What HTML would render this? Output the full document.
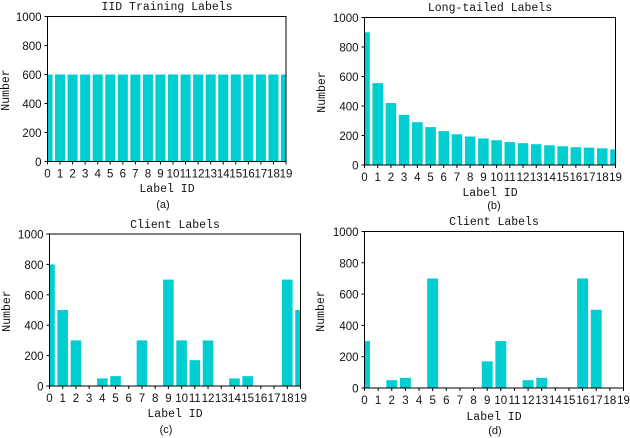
<!DOCTYPE html>
<html>
<head>
<meta charset="utf-8">
<style>
html,body{margin:0;padding:0;background:#fff;width:630px;height:438px;overflow:hidden}
svg{display:block}
text{fill:#111}
.tick{font:11.5px "Liberation Sans",sans-serif}
.lab{font:11.5px "Liberation Mono","Noto Sans CJK SC",monospace}
.cap{font:11px "Liberation Sans",sans-serif}
</style>
</head>
<body>
<svg id="fig" xmlns="http://www.w3.org/2000/svg" width="630" height="438" viewBox="0 0 630 438"></svg>
<script>
const categories = [0,1,2,3,4,5,6,7,8,9,10,11,12,13,14,15,16,17,18,19];
const yTicks = [0,200,400,600,800,1000];
const iidValues = [600,600,600,600,600,600,600,600,600,600,600,600,600,600,600,600,600,600,600,600];
const longTailValues = [900,555,420,340,290,257,230,208,193,180,168,156,148,141,134,127,121,118,113,106];
const clientCValues = [800,500,300,0,50,65,0,300,0,700,300,170,300,0,50,65,0,0,700,500];
const clientDValues = [300,0,50,65,0,700,0,0,0,170,300,0,50,65,0,0,700,500,0,0];

const NS = 'http://www.w3.org/2000/svg';
const fig = document.getElementById('fig');

function make(parent, tag, attrs, text) {
  const el = document.createElementNS(NS, tag);
  for (const k in attrs) el.setAttribute(k, attrs[k]);
  if (text !== undefined) el.textContent = text;
  parent.appendChild(el);
  return el;
}

function drawPanel(id, values, box, title, caption, pos) {
  const g = make(fig, 'g', {});
  
  

  const xScale = v => box.l + (v / (categories.length - 1)) * (box.r - box.l);
  const yScale = v => box.b - (v / 1000) * (box.b - box.t);
  const unit = (box.r - box.l) / (categories.length - 1);

  values.forEach((v, i) => {
    const x0 = Math.max(box.l, xScale(i) - unit * 0.4);
    const x1 = Math.min(box.r, xScale(i) + unit * 0.4);
    if (v <= 0) return;
    const bar = make(g, 'rect', {x: x0, y: yScale(v), width: x1 - x0, height: box.b - yScale(v), fill: '#00ced1'});
    
    
  });

  const frame = make(g, 'rect', {x: box.l, y: box.t, width: box.r - box.l, height: box.b - box.t, fill: 'none', stroke: '#000', 'stroke-width': 1});
  
  

  yTicks.forEach(t => {
    const y = yScale(t);
    const line = make(g, 'line', {x1: box.l - 3, x2: box.l, y1: y, y2: y, stroke: '#000', 'stroke-width': 1});
    
    
    const label = make(g, 'text', {class: 'tick', x: box.l - 6, y: y + 4.5, 'text-anchor': 'end'}, t);
    
    
  });

  categories.forEach(c => {
    const x = xScale(c);
    const line = make(g, 'line', {x1: x, x2: x, y1: box.b, y2: box.b + 3, stroke: '#000', 'stroke-width': 1});
    
    
    const label = make(g, 'text', {class: 'tick', x: x, y: box.b + 16, 'text-anchor': 'middle'}, c);
    
    
  });

  const titleEl = make(g, 'text', {class: 'lab', x: pos.tx, y: pos.ty, 'text-anchor': 'middle'}, title);
  
  

  const xTitle = make(g, 'text', {class: 'lab', x: pos.tx, y: pos.xy, 'text-anchor': 'middle'}, 'Label ID');
  
  

  const yTitle = make(g, 'text', {class: 'lab', x: 0, y: 0, 'text-anchor': 'middle', transform: 'translate(' + pos.yx + ',' + pos.yy + ') rotate(-90)'}, 'Number');
  
  

  const cap = make(g, 'text', {class: 'cap', x: pos.cx, y: pos.cy, 'text-anchor': 'middle'}, caption);
  
  
}

drawPanel('a', iidValues, {l:47.5, r:286, t:16.5, b:161.5}, 'IID Training Labels', '(a)',
  {tx:167, ty:10, xy:192, yx:9, yy:90, cx:163, cy:208});
drawPanel('b', longTailValues, {l:364.5, r:615.5, t:17.5, b:165}, 'Long-tailed Labels', '(b)',
  {tx:490, ty:11, xy:196, yx:325, yy:92, cx:494, cy:209});
drawPanel('c', clientCValues, {l:49.5, r:300.5, t:234, b:386}, 'Client Labels', '(c)',
  {tx:175, ty:228, xy:417, yx:10, yy:311, cx:166, cy:433});
drawPanel('d', clientDValues, {l:364.5, r:623.5, t:231.5, b:388}, 'Client Labels', '(d)',
  {tx:494, ty:225, xy:420, yx:324, yy:311, cx:495, cy:434});
</script>
</body>
</html>
